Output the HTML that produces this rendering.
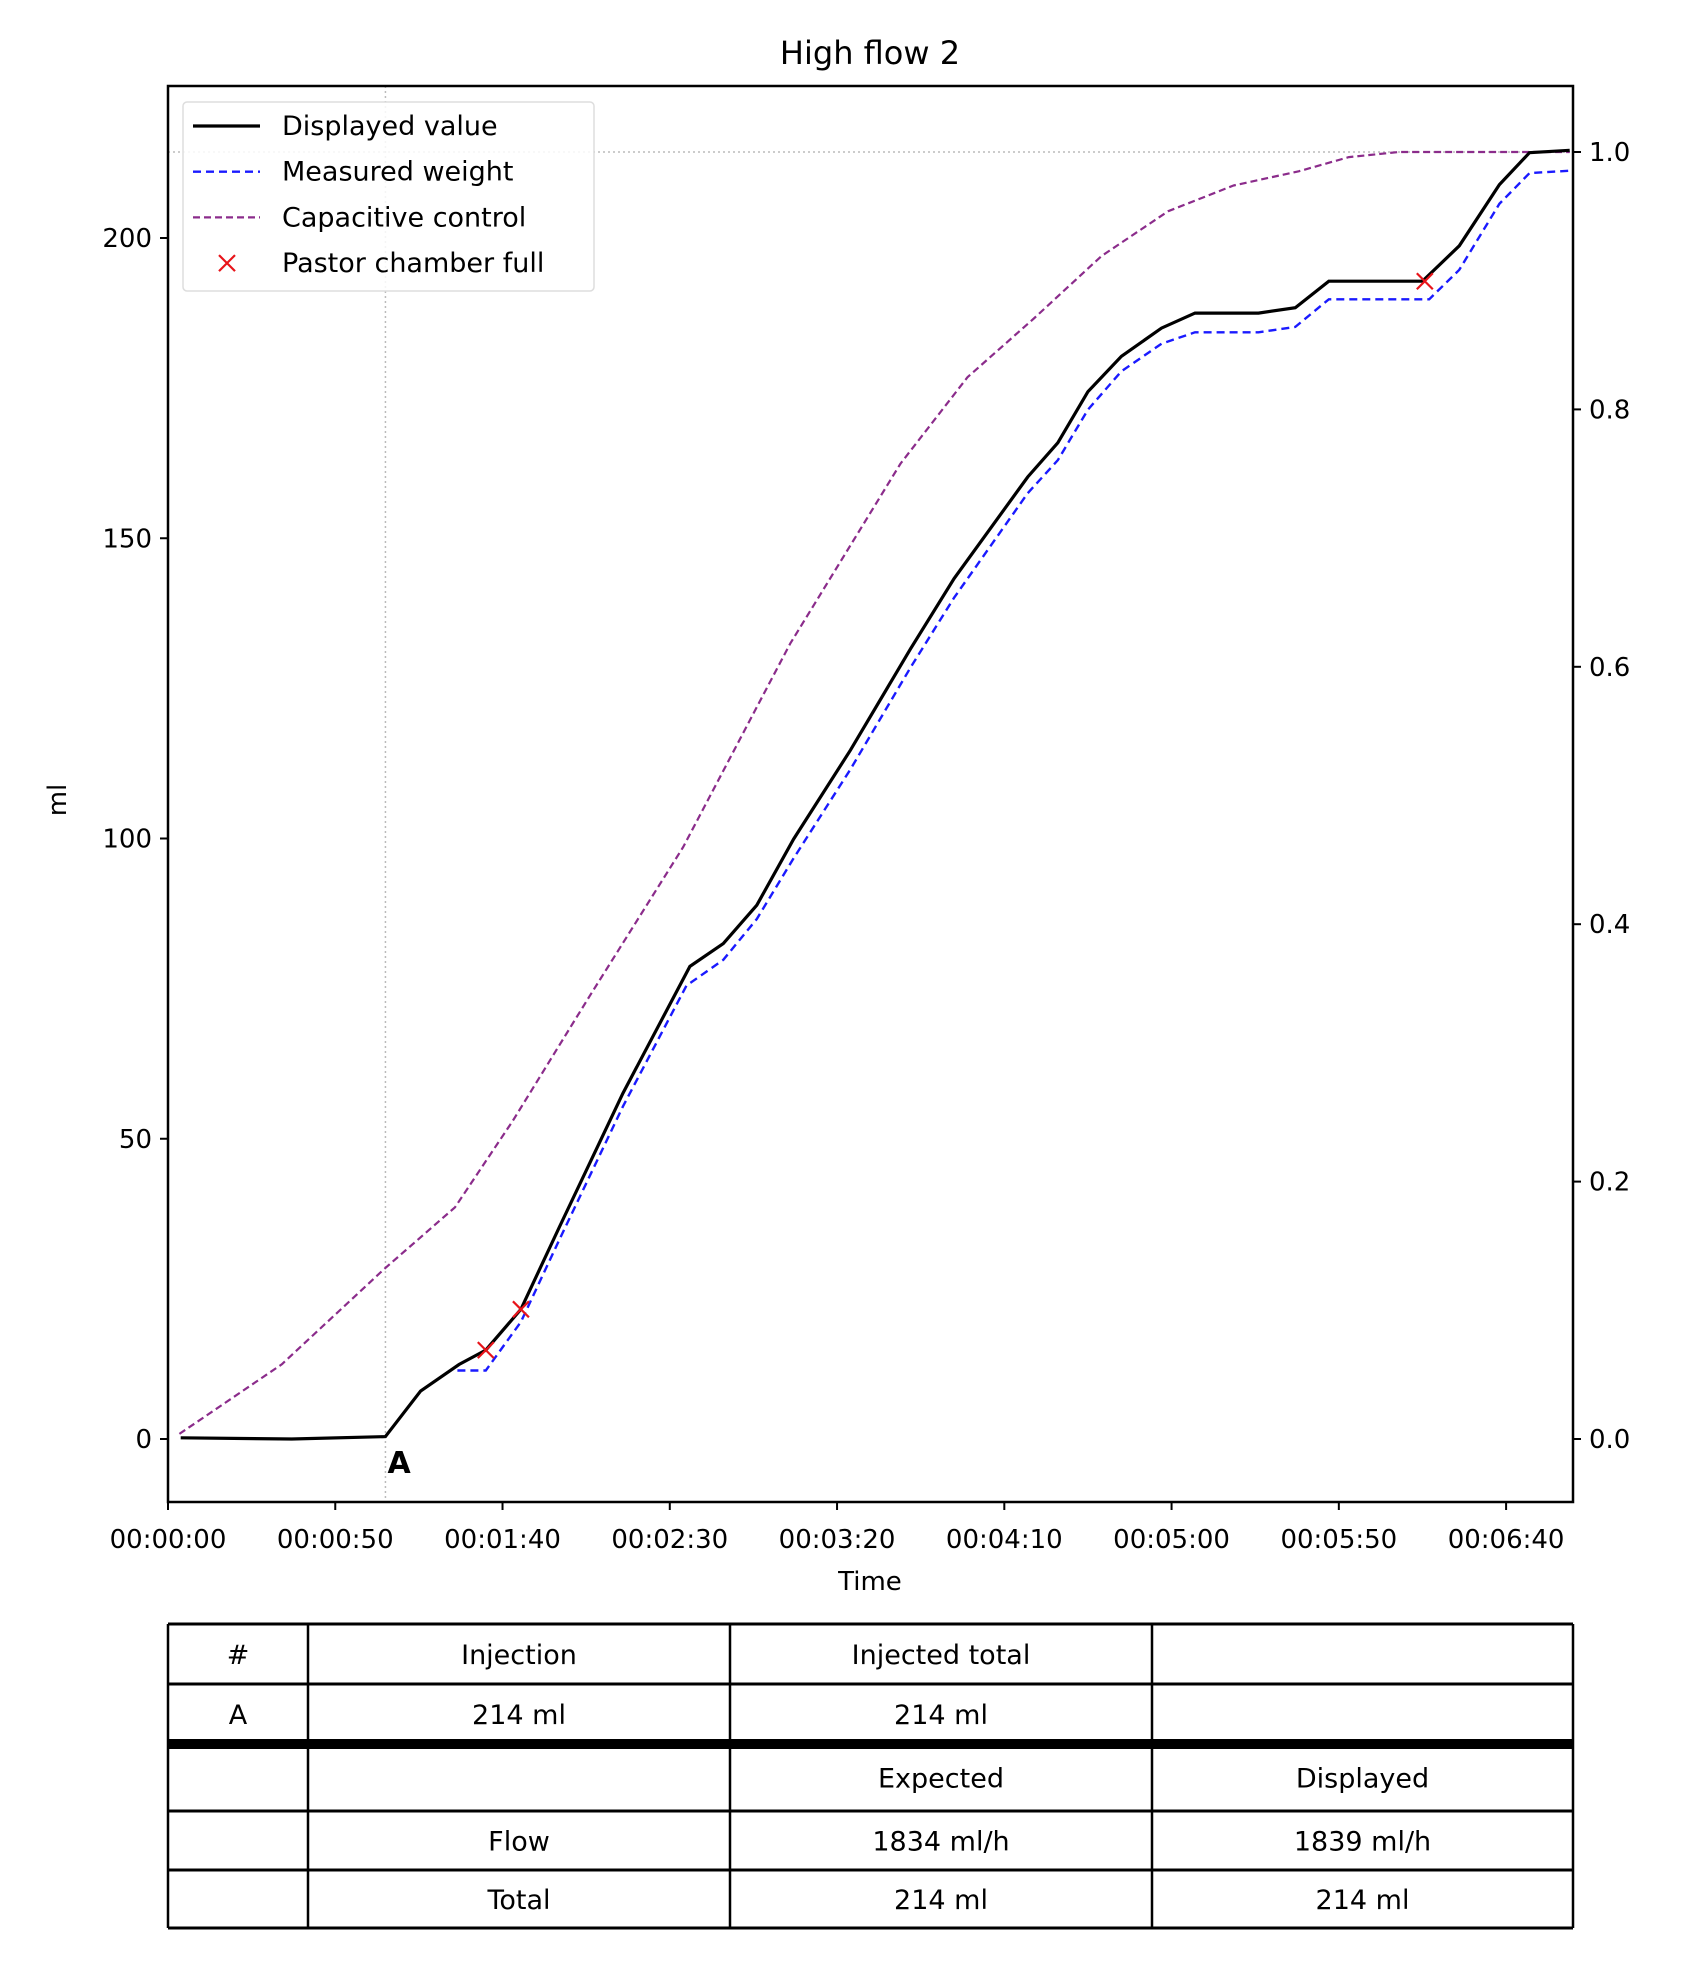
<!DOCTYPE html>
<html><head><meta charset="utf-8"><style>
html,body{margin:0;padding:0;background:#fff;}
svg{display:block;font-family:"DejaVu Sans","Liberation Sans",sans-serif;}
</style></head><body>
<svg id="chart" width="1689" height="1986" viewBox="0 0 1689 1986"></svg>
<script>
// ---- data ----
const dispT = [3.8,37,65,75.5,87,95,105.5,117,136,156,166,176,187,204,222,235,257,266,275,285,297,307,326,337,347,375,386,398,407,419];
const dispV = [0.2,0,0.4,8.0,12.4,14.8,21.6,35.3,57.6,78.7,82.5,88.9,99.9,114.7,131.6,143.3,160.2,165.9,174.4,180.3,185,187.5,187.5,188.4,192.8,192.8,198.7,208.9,214.2,214.6];
const measT = [86.5,95,105.5,117,136,155,166,176,187,204,222,235,257,266,275,285,297,307,326,337,347,377,386,398,407,419];
const measV = [11.4,11.4,19.5,33.2,55.4,75.5,79.8,86.6,96.7,111.5,128.5,140.1,157.5,163,171.4,177.8,182.4,184.3,184.3,185.2,189.8,189.8,194.7,205.7,210.8,211.2];
const capT = [3.4,34,64.6,85.8,103,126,154,186,219,239,259,279,299,318.5,338,353,368,419];
const capV = [0.004,0.058,0.132,0.18,0.247,0.344,0.46,0.618,0.758,0.825,0.871,0.919,0.954,0.974,0.985,0.996,1.0,1.0];
const fullT = [95,105.5,375.7];
const fullV = [14.8,21.6,192.8];
const xTickVals = [0,50,100,150,200,250,300,350,400];
const xTickLabels = ["00:00:00","00:00:50","00:01:40","00:02:30","00:03:20","00:04:10","00:05:00","00:05:50","00:06:40"];
const yTickVals = [0,50,100,150,200];
const y2TickVals = [0,0.2,0.4,0.6,0.8,1.0];
const y2TickLabels = ["0.0","0.2","0.4","0.6","0.8","1.0"];
const injectionT = 65;

// ---- layout ----
const L=168,R=1573,T=86,B=1502;
const xs = t => L + (t-0)/(420-0)*(R-L);
const ys = v => 1439 - v*6.005;
const ys2 = v => 1439 - v*1287;
const svg = document.getElementById('chart');
const NS='http://www.w3.org/2000/svg';
function mk(tag, attrs, parent){const e=document.createElementNS(NS,tag);for(const k in attrs)e.setAttribute(k,attrs[k]);(parent||svg).appendChild(e);return e;}
function txt(s, attrs){const e=mk('text',attrs);e.textContent=s;return e;}

let e;
e=txt('High flow 2',{x:870,y:64,'text-anchor':'middle','font-size':32});



e=mk('line',{x1:xs(injectionT),x2:xs(injectionT),y1:T,y2:B,stroke:'#bbb','stroke-width':1.5,'stroke-dasharray':'2,3'});


e=mk('line',{x1:L,x2:R,y1:ys2(1),y2:ys2(1),stroke:'#bbb','stroke-width':1.5,'stroke-dasharray':'2,3'});



function path(ts, vs, yf){return ts.map((t,i)=>(i?'L':'M')+xs(t).toFixed(1)+','+yf(vs[i]).toFixed(1)).join(' ');}
e=mk('path',{d:path(capT,capV,ys2),fill:'none',stroke:'#8b2c8b','stroke-width':2.2,'stroke-dasharray':'7,4','stroke-linejoin':'round'});


e=mk('path',{d:path(dispT,dispV,ys),fill:'none',stroke:'#000','stroke-width':3.2});


e=mk('path',{d:path(measT,measV,ys),fill:'none',stroke:'#1a1aff','stroke-width':2.4,'stroke-dasharray':'8,5'});


fullT.forEach((t,i)=>{
  const cx=xs(t), cy=ys(fullV[i]), s=8;
  const g=mk('path',{d:`M${cx-s},${cy-s}L${cx+s},${cy+s}M${cx-s},${cy+s}L${cx+s},${cy-s}`,stroke:'#e8141a','stroke-width':2.2});
  
  
});
e=txt('A',{x:xs(injectionT)+2,y:1473,'font-size':30,'font-weight':'bold'});



e=mk('rect',{x:L,y:T,width:R-L,height:B-T,fill:'none',stroke:'#000','stroke-width':2.5});



xTickVals.forEach((v,i)=>{
  mk('line',{x1:xs(v),x2:xs(v),y1:B,y2:B+8,stroke:'#000','stroke-width':2});
  const t=txt(xTickLabels[i],{x:xs(v),y:1548,'text-anchor':'middle','font-size':26});
  
  
});
yTickVals.forEach(v=>{
  mk('line',{x1:L-8,x2:L,y1:ys(v),y2:ys(v),stroke:'#000','stroke-width':2});
  const t=txt(String(v),{x:L-16,y:ys(v)+9,'text-anchor':'end','font-size':26});
  
  
});
y2TickVals.forEach((v,i)=>{
  mk('line',{x1:R,x2:R+8,y1:ys2(v),y2:ys2(v),stroke:'#000','stroke-width':2});
  const t=txt(y2TickLabels[i],{x:R+16,y:ys2(v)+9,'font-size':26});
  
  
});
e=txt('Time',{x:870,y:1590,'text-anchor':'middle','font-size':26});


e=txt('ml',{x:0,y:0,'text-anchor':'middle','font-size':26,transform:'translate(66,800) rotate(-90)'});



const lg=mk('g',{});


mk('rect',{x:183,y:102,width:411,height:189,rx:4,fill:'#fff','fill-opacity':0.85,stroke:'#ddd','stroke-width':1.5},lg);
const items=[['Displayed value','solid'],['Measured weight','blue'],['Capacitive control','purple'],['Pastor chamber full','x']];
items.forEach((it,i)=>{
  const y=126+i*45.7;
  if(it[1]==='solid') mk('line',{x1:193,x2:260,y1:y,y2:y,stroke:'#000','stroke-width':3.2},lg);
  if(it[1]==='blue') mk('line',{x1:193,x2:260,y1:y,y2:y,stroke:'#1a1aff','stroke-width':2.4,'stroke-dasharray':'8,5'},lg);
  if(it[1]==='purple') mk('line',{x1:193,x2:260,y1:y,y2:y,stroke:'#8b2c8b','stroke-width':2.2,'stroke-dasharray':'7,4'},lg);
  if(it[1]==='x') mk('path',{d:`M219,${y-8}L235,${y+8}M219,${y+8}L235,${y-8}`,stroke:'#e8141a','stroke-width':2.2},lg);
  const t=mk('text',{x:282,y:y+9,'font-size':27},lg);t.textContent=it[0];
  
  
});

const cols=[168,308,730,1152,1573];
const rows=[1624,1684,1744,1811,1870,1928];
const cells=[["#","Injection","Injected total",""],["A","214 ml","214 ml",""],["","","Expected","Displayed"],["","Flow","1834 ml/h","1839 ml/h"],["","Total","214 ml","214 ml"]];
const tg=mk('g',{});


cells.forEach((r,ri)=>{
  const top=rows[ri], bot=rows[ri+1];
  r.forEach((c,ci)=>{
    if(!c)return;
    const t=mk('text',{x:(cols[ci]+cols[ci+1])/2,y:(top+bot)/2+10,'text-anchor':'middle','font-size':27},tg);
    t.textContent=c;
    
    
  });
});
rows.forEach((y,i)=>{
  mk('line',{x1:168,x2:1573,y1:y,y2:y,stroke:'#000','stroke-width':i===2?10:3},tg);
});
cols.forEach(x=>mk('line',{x1:x,x2:x,y1:1624,y2:1928,stroke:'#000','stroke-width':2.5},tg));
</script>
</body></html>
